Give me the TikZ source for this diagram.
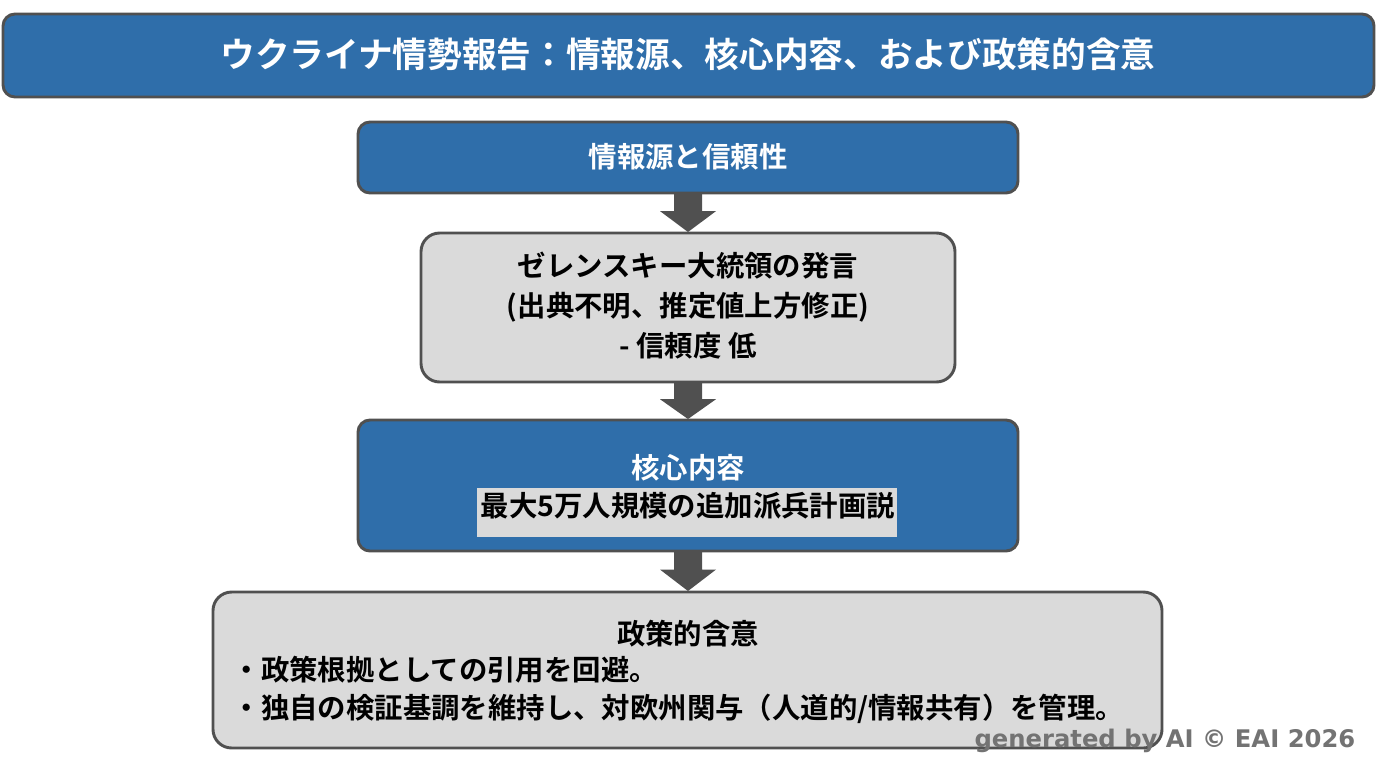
\documentclass[tikz,border=0pt]{standalone}
\usepackage{fontspec}
\setmainfont{Noto Sans CJK JP}[BoldFont={Noto Sans CJK JP Bold}]
\newfontfamily\wm{DejaVu Sans}
\usetikzlibrary{calc}
\definecolor{bl}{HTML}{2F6EAA}
\definecolor{gb}{HTML}{DADADA}
\definecolor{bd}{HTML}{505050}
\begin{document}
\begin{tikzpicture}[x=0.75pt,y=-0.75pt,
 box/.style={draw=bd,line width=2.2pt,rounded corners=9pt,inner sep=0pt},
 tx/.style={font=\bfseries\fontsize{21.3}{26}\selectfont},
 arr/.style={fill=bd,draw=none}]
\useasboundingbox (0,0) rectangle (1376,768);
\fill[white] (0,0) rectangle (1376,768);
\draw[box,fill=bl] (3,14) rectangle (1374,97);
\node (t) at (688,54) {\color{white}\bfseries\fontsize{26}{30}\selectfont ウクライナ情勢報告：情報源、核心内容、および政策的含意};
\draw[box,fill=bl] (358,122) rectangle (1018,193);
\node[tx,text=white] (b1) at (688,157) {情報源と信頼性};
\draw[box,fill=gb,rounded corners=14pt] (421,233) rectangle (955,382);
\node[tx,align=center,font=\bfseries\fontsize{21.3}{30}\selectfont] (b2) at (688,306) {ゼレンスキー大統領の発言\\(出典不明、推定値上方修正)\\- 信頼度 低};
\draw[box,fill=bl] (358,420) rectangle (1018,551);
\node[tx,text=white] (b3a) at (688,468) {核心内容};
\fill[gb] (477,488) rectangle (897,537);
\node[tx] (b3b) at (688,506) {最大5万人規模の追加派兵計画説};
\draw[box,fill=gb,rounded corners=14pt] (213,592) rectangle (1162,748);
\node[tx] (b4) at (688,634) {政策的含意};
\node[tx,anchor=west] (b4a) at (228,670) {・政策根拠としての引用を回避。};
\node[tx,anchor=west] (b4b) at (228,709) {・独自の検証基調を維持し、対欧州関与（人道的/情報共有）を管理。};
\foreach \a/\b in {194/232,383/419,552/591}{
 \fill[arr] (674,\a) -- (702,\a) -- (702,{\a+(\b-\a)*0.45}) -- (716,{\a+(\b-\a)*0.45}) -- (688,\b) -- (660,{\a+(\b-\a)*0.45}) -- (674,{\a+(\b-\a)*0.45}) -- cycle;}
\node[anchor=east,text=bd!80,font=\wm\bfseries\fontsize{18.2}{20}\selectfont] (wm) at (1360,741) {generated by AI © EAI 2026};
\end{tikzpicture}
\end{document}
